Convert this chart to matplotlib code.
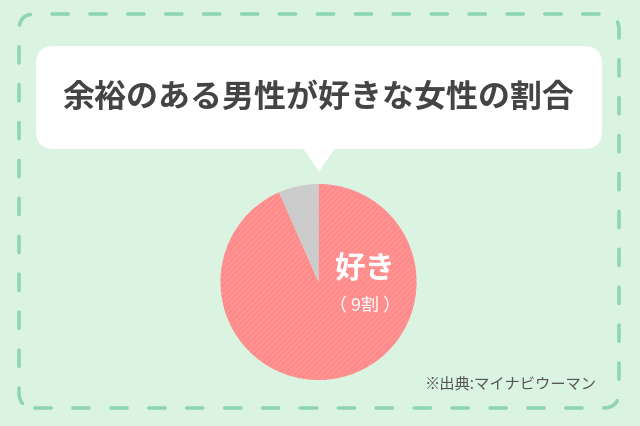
import matplotlib
matplotlib.use("Agg")
import matplotlib.pyplot as plt
from matplotlib.patches import FancyBboxPatch, Polygon

plt.rcParams['font.family'] = ['Noto Sans CJK JP', 'DejaVu Sans']

title = "余裕のある男性が好きな女性の割合"
categories = ["好き", "その他"]
values = [93.4, 6.6]
label_main = "好き"
label_sub = "（ 9割 ）"
source = "※出典:マイナビウーマン"

W, H = 640, 427
fig = plt.figure(figsize=(6.4, 4.27), dpi=100)
fig.patch.set_facecolor('#DBF4E1')
ax = fig.add_axes([0, 0, 1, 1])
ax.set_xlim(0, W)
ax.set_ylim(0, H)
ax.set_aspect('equal')
ax.axis('off')

def Y(y):
    return H - y

# dashed border
border = FancyBboxPatch((19, Y(409)), 600, 394,
                        boxstyle="round,pad=0,rounding_size=16",
                        fill=False, edgecolor='#8ED6B3', linewidth=2.6,
                        linestyle=(0, (4.5, 6)), capstyle='round')
ax.add_patch(border)

# speech bubble
bubble = FancyBboxPatch((36, Y(150)), 566, 103,
                        boxstyle="round,pad=0,rounding_size=18",
                        facecolor='white', edgecolor='none')
ax.add_patch(bubble)
ax.add_patch(Polygon([(303, Y(149)), (335, Y(149)), (319, Y(173))],
                     closed=True, facecolor='white', edgecolor='none'))

ax.text(318, Y(98), title, ha='center', va='center', fontsize=23,
        fontweight='bold', color='#444444')

# pie
wedges, _ = ax.pie(values, center=(318.5, Y(283)), radius=98,
                   startangle=90, counterclock=False,
                   colors=['#FF8A8A', '#CCCCCC'],
                   wedgeprops=dict(linewidth=0))
wedges[0].set_hatch('//////')
wedges[0].set_edgecolor('#FF9797')
wedges[0].set_linewidth(0)
ax.set_xlim(0, W)
ax.set_ylim(0, H)
ax.axis('off')

ax.text(365, Y(270), label_main, ha='center', va='center', fontsize=22,
        fontweight='bold', color='white')
ax.text(365, Y(306), label_sub, ha='center', va='center', fontsize=13,
        color='white')

ax.text(511, Y(384), source, ha='center', va='center', fontsize=11,
        color='#555555')

fig.savefig('out.png', dpi=100, facecolor=fig.get_facecolor())
